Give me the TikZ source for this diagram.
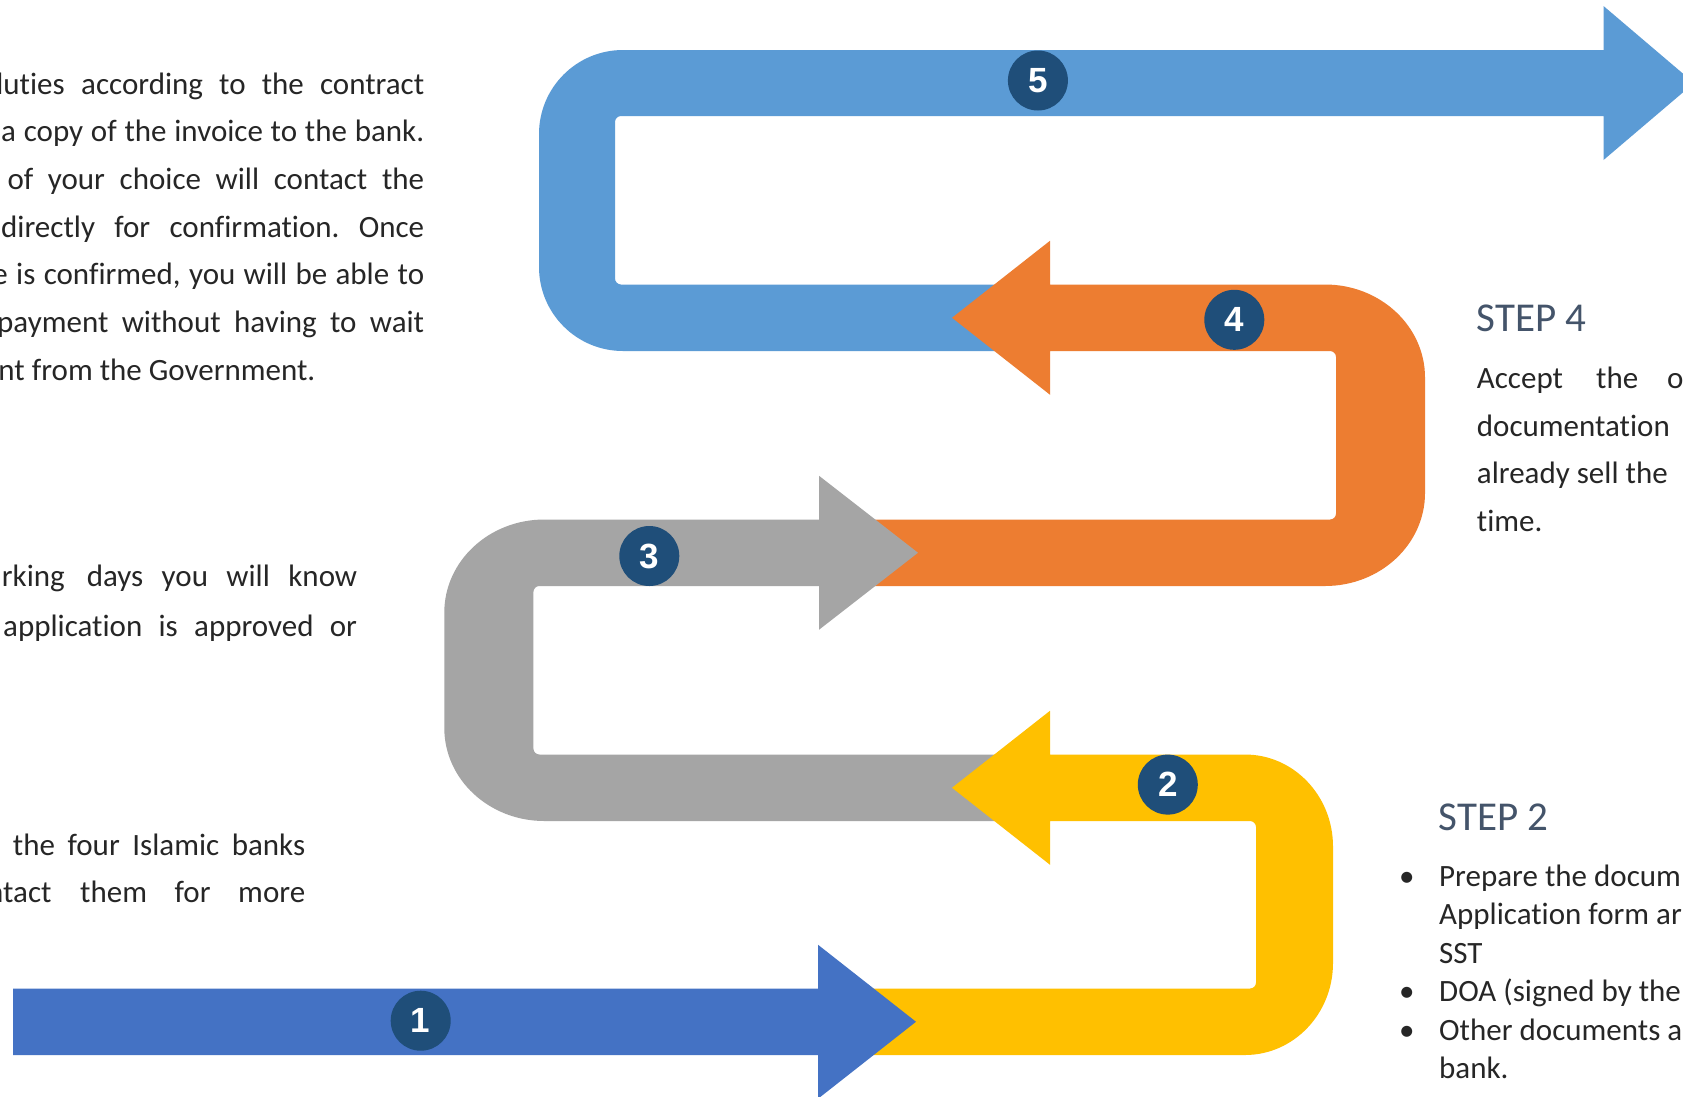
\documentclass[tikz,border=0pt]{standalone}
\usepackage{fontspec}
\setmainfont{Carlito}[Ligatures={NoCommon}]
\newfontfamily\numfont{Liberation Sans}
\definecolor{cfive}{HTML}{5B9BD5}
\definecolor{cfour}{HTML}{ED7D31}
\definecolor{cthree}{HTML}{A5A5A5}
\definecolor{ctwo}{HTML}{FFC000}
\definecolor{cone}{HTML}{4472C4}
\definecolor{navy}{HTML}{1F4E79}
\definecolor{headc}{HTML}{44546A}
\definecolor{txt}{HTML}{262626}
\frenchspacing
\newcommand\jl[2]{\hbox to #1pt{\frenchspacing\spaceskip=0.23em plus 1fil minus 0.05em\relax #2}}
\begin{document}
\begin{tikzpicture}[x=1pt,y=-1pt,
  body/.style={inner sep=0pt, text=txt, font=\fontsize{31}{37}\selectfont},
  head/.style={inner sep=0pt, text=headc, font=\fontsize{41}{49}\selectfont},
  numc/.style={circle, fill=navy, text=white, minimum size=60pt, inner sep=0pt,
    font=\numfont\bfseries\fontsize{35}{35}\selectfont},
  band/.style={draw=none}]
\useasboundingbox (0,0) rectangle (1683,1096);
\clip (0,0) rectangle (1683,1096);
\fill[white] (0,0) rectangle (1683,1096);

% ---- loop 5 (light blue)
\fill[cfive] (1000,284.5) -- (621,284.5) .. controls (617.7,284.5) and (615,281.8) .. (615,278.5)
  -- (615,122) .. controls (615,118.7) and (617.7,116) .. (621,116)
  -- (1603.5,116) -- (1603.5,160) -- (1694,83) -- (1603.5,6) -- (1603.5,50)
  -- (623,50) .. controls (576.6,50) and (539,87.6) .. (539,134)
  -- (539,267) .. controls (539,313.4) and (576.6,351) .. (623,351)
  -- (1000,351) -- cycle;

% ---- loop 4 (orange)
\fill[cfour] (952,317.75) -- (1050,240.75) -- (1050,284.5) -- (1325,284.5)
  .. controls (1380.2,284.5) and (1425,326.1) .. (1425,377.5)
  -- (1425,493) .. controls (1425,544.4) and (1380.2,586) .. (1325,586)
  -- (870,586) -- (870,519.5) -- (1330,519.5)
  .. controls (1333.3,519.5) and (1336,516.8) .. (1336,513.5)
  -- (1336,357) .. controls (1336,353.7) and (1333.3,351) .. (1330,351)
  -- (1050,351) -- (1050,394.75) -- cycle;

% ---- loop 3 (grey)
\fill[cthree] (918,552.75) -- (819,475.75) -- (819,519.5) -- (544.3,519.5)
  .. controls (489.1,519.5) and (444.3,561.1) .. (444.3,612.5)
  -- (444.3,728) .. controls (444.3,779.4) and (489.1,821) .. (544.3,821)
  -- (1000,821) -- (1000,754.5) -- (539.4,754.5)
  .. controls (536.1,754.5) and (533.4,751.8) .. (533.4,748.5)
  -- (533.4,592) .. controls (533.4,588.7) and (536.1,586) .. (539.4,586)
  -- (819,586) -- (819,629.75) -- cycle;

% ---- loop 2 (yellow)
\fill[ctwo] (952,787.75) -- (1050,710.75) -- (1050,754.5) -- (1245,754.5)
  .. controls (1293.6,754.5) and (1333,795.7) .. (1333,846.5)
  -- (1333,963) .. controls (1333,1013.8) and (1293.6,1055) .. (1245,1055)
  -- (850,1055) -- (850,988.5) -- (1250,988.5)
  .. controls (1253.3,988.5) and (1256,985.8) .. (1256,982.5)
  -- (1256,827) .. controls (1256,823.7) and (1253.3,821) .. (1250,821)
  -- (1050,821) -- (1050,864.75) -- cycle;

% ---- arrow 1 (blue)
\fill[cone] (13,988.5) -- (818,988.5) -- (818,944.75) -- (916,1021.75)
  -- (818,1098.75) -- (818,1055) -- (13,1055) -- cycle;

% ---- number badges
\node[numc] (n1) at (420.7,1020.7) {1};
\node[numc] (n2) at (1167.8,784.6) {2};
\node[numc] (n3) at (649.3,556) {3};
\node[numc] (n4) at (1234.3,319.8) {4};
\node[numc] (n5) at (1037.9,80.5) {5};

% ---- left text, block 1
\node[body, anchor=base east] (a1p) at (65,94) {duties};
\node[body, anchor=base west] (a1) at (81,94) {\jl{343}{according to the contract}};
\node[body, anchor=base west] (a2) at (1,141.7) {\jl{423}{a copy of the invoice to the bank.}};
\node[body, anchor=base west] (a3) at (7.3,189) {\jl{416.7}{of your choice will contact the}};
\node[body, anchor=base west] (a4) at (1,237) {\jl{423}{directly for confirmation. Once}};
\node[body, anchor=base east] (a5p) at (8,284) {e};
\node[body, anchor=base west] (a5) at (16,284) {\jl{408}{is confirmed, you will be able to}};
\node[body, anchor=base west] (a6) at (-3,332) {\jl{427}{payment without having to wait}};
\node[body, anchor=base east] (a7p) at (25,380) {nt};
\node[body, anchor=base west] (a7) at (31.7,380) {from the Government.};

% ---- left text, block 2
\node[body, anchor=base east] (b1p) at (65,586) {rking};
\node[body, anchor=base west] (b1) at (86.7,586) {\jl{270.3}{days you will know}};
\node[body, anchor=base west] (b2) at (3,636) {\jl{354}{application is approved or}};

% ---- left text, block 3
\node[body, anchor=base west] (c1) at (12.7,855) {\jl{292.3}{the four Islamic banks}};
\node[body, anchor=base east] (c2p) at (51.7,902.7) {ntact};
\node[body, anchor=base west] (c2) at (80,902.7) {\jl{225}{them for more}};

% ---- right text, step 4
\node[head, anchor=base west] (s4) at (1476.7,331.5) {STEP 4};
\node[body, anchor=base west] (d1a) at (1476.7,388) {Accept};
\node[body, anchor=base west] (d1b) at (1596,388) {the};
\node[body, anchor=base west] (d1c) at (1667,388) {o};
\node[body, anchor=base west] (d2) at (1476.7,436) {documentation};
\node[body, anchor=base west] (d3) at (1476.7,483.5) {already sell the};
\node[body, anchor=base west] (d4) at (1476.7,531.5) {time.};

% ---- right text, step 2
\node[head, anchor=base west] (s2) at (1438.3,830) {STEP 2};
\node[body, anchor=base] (e1b) at (1406.7,886) {•};
\node[body, anchor=base west] (e1) at (1439,886) {Prepare the docum};
\node[body, anchor=base west] (e2) at (1439,924.5) {Application form ar};
\node[body, anchor=base west] (e3) at (1439,963) {SST};
\node[body, anchor=base] (e4b) at (1406.7,1001.5) {•};
\node[body, anchor=base west] (e4) at (1439,1001.5) {DOA (signed by the};
\node[body, anchor=base] (e5b) at (1406.7,1040) {•};
\node[body, anchor=base west] (e5) at (1439,1040) {Other documents a};
\node[body, anchor=base west] (e6) at (1439,1078.5) {bank.};
\end{tikzpicture}
\end{document}
